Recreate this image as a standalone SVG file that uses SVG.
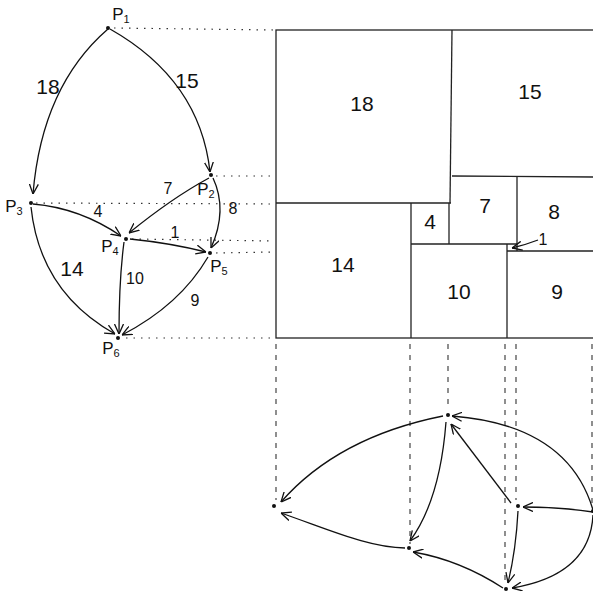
<svg xmlns="http://www.w3.org/2000/svg" width="593" height="592" viewBox="0 0 593 592">
<style>
.e{fill:none;stroke:#111;stroke-width:1.3;marker-end:url(#ah)}
.l{fill:none;stroke:#222;stroke-width:1.3}
.dot{fill:none;stroke:#333;stroke-width:1.2;stroke-dasharray:1.5 6}
.dash{fill:none;stroke:#333;stroke-width:1.1;stroke-dasharray:5 6}
.n{fill:#111}
text{font-family:"Liberation Sans","DejaVu Sans",sans-serif;fill:#111;text-anchor:middle}
.t{font-size:21px}
.s{font-size:16px}
.p{font-size:17px}
.sub{font-size:11px}
</style>
<defs>
<marker id="ah" viewBox="0 0 10 10" refX="10" refY="5" markerWidth="10" markerHeight="10" markerUnits="userSpaceOnUse" orient="auto">
<path d="M0,0.5 L10,5 L0,9.5" fill="none" stroke="#111" stroke-width="1.3"/>
</marker>
</defs>
<rect width="593" height="592" fill="#fff"/>

<g id="guides">
<line class="dot" x1="114" y1="28" x2="274" y2="30"/>
<line class="dot" x1="216" y1="176" x2="274" y2="176"/>
<line class="dot" x1="36" y1="203" x2="274" y2="204"/>
<line class="dot" x1="132" y1="239" x2="274" y2="241"/>
<line class="dot" x1="216" y1="253" x2="274" y2="252"/>
<line class="dot" x1="126" y1="338" x2="274" y2="338"/>
<line class="dash" x1="276" y1="344" x2="276" y2="500"/>
<line class="dash" x1="410" y1="344" x2="410" y2="544"/>
<line class="dash" x1="448" y1="344" x2="448" y2="410"/>
<line class="dash" x1="505" y1="344" x2="505" y2="582"/>
<line class="dash" x1="516" y1="344" x2="516" y2="500"/>
<line class="dash" x1="592" y1="344" x2="592" y2="505"/>
</g>

<g id="squares">
<rect class="l" x="276" y="30" width="330" height="308"/>
<line class="l" x1="452" y1="30" x2="450" y2="203"/>
<line class="l" x1="276" y1="203" x2="451" y2="203"/>
<line class="l" x1="452" y1="176" x2="593" y2="177"/>
<line class="l" x1="517" y1="176" x2="517" y2="251"/>
<line class="l" x1="411" y1="203" x2="411" y2="338"/>
<line class="l" x1="449" y1="203" x2="449" y2="244"/>
<line class="l" x1="411" y1="244" x2="517" y2="244"/>
<line class="l" x1="507" y1="244" x2="507" y2="338"/>
<line class="l" x1="507" y1="251" x2="593" y2="251"/>
<path class="e" d="M538,240 Q525,245 512,248"/>
<text class="t" x="362" y="111">18</text>
<text class="t" x="530" y="99">15</text>
<text class="t" x="343" y="272">14</text>
<text class="t" x="430" y="229">4</text>
<text class="t" x="485" y="213">7</text>
<text class="t" x="554" y="219">8</text>
<text class="s" x="543" y="245">1</text>
<text class="t" x="459" y="299">10</text>
<text class="t" x="557" y="299">9</text>
</g>

<g id="edges-left">
<path class="e" d="M108,29 Q42,86 33,194"/>
<path class="e" d="M110,29 Q200,80 210,172"/>
<path class="e" d="M209,178 Q172,198 129,233"/>
<path class="e" d="M213,178 Q228,210 211,248"/>
<path class="e" d="M33,204 Q80,208 121,236"/>
<path class="e" d="M130,239 Q170,243 206,252"/>
<path class="e" d="M31,207 Q40,292 115,334"/>
<path class="e" d="M124,242 Q119,280 119,334"/>
<path class="e" d="M208,257 Q180,305 122,335"/>
</g>

<g id="edge-labels-left">
<text class="t" x="48" y="94">18</text>
<text class="t" x="187" y="88">15</text>
<text class="s" x="168" y="194">7</text>
<text class="s" x="233" y="214">8</text>
<text class="s" x="98" y="217">4</text>
<text class="s" x="175" y="238">1</text>
<text class="t" x="72" y="276">14</text>
<text class="s" x="135" y="284">10</text>
<text class="s" x="195" y="306">9</text>
</g>

<g id="P1"><circle class="n" cx="108" cy="28" r="2"/><text class="p" x="121" y="20">P<tspan class="sub" dy="3">1</tspan></text></g>
<g id="P2"><circle class="n" cx="211" cy="175" r="2"/><text class="p" x="206" y="195">P<tspan class="sub" dy="3">2</tspan></text></g>
<g id="P3"><circle class="n" cx="31" cy="203" r="2"/><text class="p" x="14" y="212">P<tspan class="sub" dy="3">3</tspan></text></g>
<g id="P4"><circle class="n" cx="126" cy="239" r="2"/><text class="p" x="110" y="252">P<tspan class="sub" dy="3">4</tspan></text></g>
<g id="P5"><circle class="n" cx="210" cy="253" r="2"/><text class="p" x="219" y="272">P<tspan class="sub" dy="3">5</tspan></text></g>
<g id="P6"><circle class="n" cx="118" cy="338" r="2"/><text class="p" x="111" y="354">P<tspan class="sub" dy="3">6</tspan></text></g>

<g id="edges-bottom">
<path class="e" d="M443,416 Q338,437 281,502"/>
<path class="e" d="M405,548 C370,548 330,530 281,513"/>
<path class="e" d="M446,422 Q440,500 410,541"/>
<path class="e" d="M511,503 L451,424"/>
<path class="e" d="M593,510 Q568,425 452,416"/>
<path class="e" d="M593,512 Q560,507 523,507"/>
<path class="e" d="M518,511 Q516,550 508,583"/>
<path class="e" d="M593,515 Q590,575 512,588"/>
<path class="e" d="M503,588 Q460,560 413,552"/>
</g>

<g id="Q1"><circle class="n" cx="274" cy="506" r="2"/></g>
<g id="Q2"><circle class="n" cx="448" cy="415" r="2"/></g>
<g id="Q3"><circle class="n" cx="409" cy="548" r="2"/></g>
<g id="Q4"><circle class="n" cx="518" cy="506" r="2"/></g>
<g id="Q5"><circle class="n" cx="506" cy="589" r="2"/></g>
<g id="Q6"><circle class="n" cx="593" cy="511" r="2"/></g>
</svg>
